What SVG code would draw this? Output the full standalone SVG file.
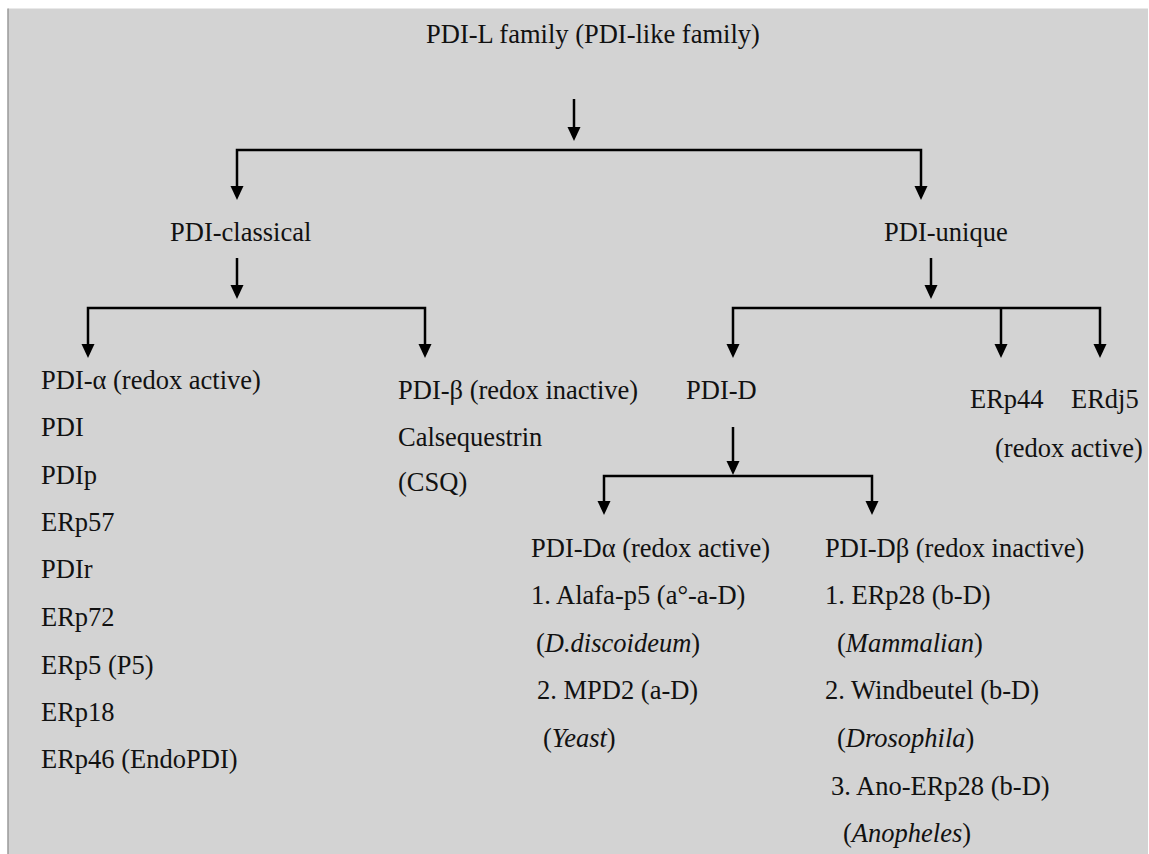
<svg xmlns="http://www.w3.org/2000/svg" width="1149" height="854" viewBox="0 0 1149 854">
<style>
text{font-family:"Liberation Serif","Times New Roman",serif;font-size:26.5px;fill:#111}
.it{font-style:italic}
.ln{stroke:#000;stroke-width:2.5;fill:none}
.hd{fill:#000}
</style>
<defs>
<polygon id="ah" points="-6.5,-14 6.5,-14 0,0"/>
</defs>
<rect x="0" y="0" width="1149" height="854" fill="#ffffff"/>
<rect x="8" y="8.5" width="1140" height="846" fill="#d3d3d3"/>
<line x1="8" y1="8.5" x2="8" y2="854" stroke="#9a9a9a" stroke-width="1.5"/>

<g id="connectors">
<path class="ln" d="M574,99V130"/>
<use href="#ah" class="hd" x="574" y="141"/>
<path class="ln" d="M237,188V150H921V188"/>
<use href="#ah" class="hd" x="237" y="200"/>
<use href="#ah" class="hd" x="921" y="200"/>
<path class="ln" d="M237,258V288"/>
<use href="#ah" class="hd" x="237" y="299"/>
<path class="ln" d="M88,346V308H425V346"/>
<use href="#ah" class="hd" x="88" y="358"/>
<use href="#ah" class="hd" x="425" y="358"/>
<path class="ln" d="M931,258V288"/>
<use href="#ah" class="hd" x="931" y="299"/>
<path class="ln" d="M733,346V308H1100V346M1001,308V346"/>
<use href="#ah" class="hd" x="733" y="358"/>
<use href="#ah" class="hd" x="1001" y="358"/>
<use href="#ah" class="hd" x="1100" y="358"/>
<path class="ln" d="M733,427V464"/>
<use href="#ah" class="hd" x="733" y="475"/>
<path class="ln" d="M604,503V476H872V503"/>
<use href="#ah" class="hd" x="604" y="515"/>
<use href="#ah" class="hd" x="872" y="515"/>
</g>

<g id="pdi-l-family"><text x="426" y="43">PDI-L family (PDI-like family)</text></g>
<g id="pdi-classical"><text x="170" y="241">PDI-classical</text></g>
<g id="pdi-unique"><text x="884" y="241">PDI-unique</text></g>
<g id="pdi-alpha">
<text x="41" y="389">PDI-α (redox active)</text>
<text x="41" y="436">PDI</text>
<text x="41" y="484">PDIp</text>
<text x="41" y="531">ERp57</text>
<text x="41" y="578">PDIr</text>
<text x="41" y="626">ERp72</text>
<text x="41" y="674">ERp5 (P5)</text>
<text x="41" y="721">ERp18</text>
<text x="41" y="768">ERp46 (EndoPDI)</text>
</g>
<g id="pdi-beta">
<text x="398" y="399">PDI-β (redox inactive)</text>
<text x="398" y="446">Calsequestrin</text>
<text x="398" y="491">(CSQ)</text>
</g>
<g id="pdi-d"><text x="686" y="399">PDI-D</text></g>
<g id="erp44"><text x="970" y="408">ERp44</text></g>
<g id="erdj5"><text x="1071" y="408">ERdj5</text><text x="995" y="457">(redox active)</text></g>
<g id="pdi-d-alpha">
<text x="531" y="557">PDI-Dα (redox active)</text>
<text x="531" y="604">1. Alafa-p5 (a°-a-D)</text>
<text x="536" y="652">(<tspan class="it">D.discoideum</tspan>)</text>
<text x="537" y="699">2. MPD2 (a-D)</text>
<text x="543" y="747">(<tspan class="it">Yeast</tspan>)</text>
</g>
<g id="pdi-d-beta">
<text x="825" y="557">PDI-Dβ (redox inactive)</text>
<text x="825" y="604">1. ERp28 (b-D)</text>
<text x="837" y="652">(<tspan class="it">Mammalian</tspan>)</text>
<text x="825" y="699">2. Windbeutel (b-D)</text>
<text x="837" y="747">(<tspan class="it">Drosophila</tspan>)</text>
<text x="831" y="795">3. Ano-ERp28 (b-D)</text>
<text x="843" y="842">(<tspan class="it">Anopheles</tspan>)</text>
</g>
</svg>
